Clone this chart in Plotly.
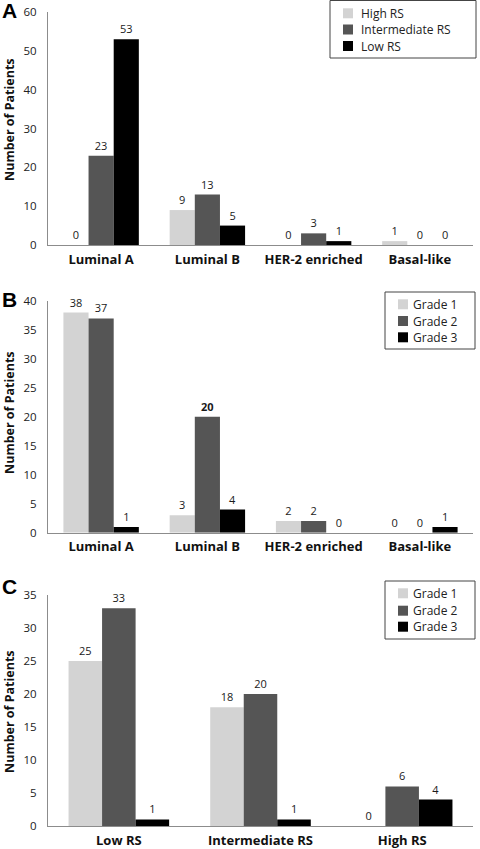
import plotly.graph_objects as go

# ---- data ----
cats_a = ["Luminal A", "Luminal B", "HER-2 enriched", "Basal-like"]
a_names = ["High RS", "Intermediate RS", "Low RS"]
a_high_rs = [0, 9, 0, 1]
a_inter_rs = [23, 13, 3, 0]
a_low_rs = [53, 5, 1, 0]

cats_b = ["Luminal A", "Luminal B", "HER-2 enriched", "Basal-like"]
grade_names = ["Grade 1", "Grade 2", "Grade 3"]
b_grade1 = [38, 3, 2, 0]
b_grade2 = [37, 20, 2, 0]
b_grade3 = [1, 4, 0, 1]

cats_c = ["Low RS", "Intermediate RS", "High RS"]
c_grade1 = [25, 18, 0]
c_grade2 = [33, 20, 6]
c_grade3 = [1, 1, 4]

LIGHT = "#d3d3d3"
DARK = "#555555"
BLACK = "#000000"
COLORS = [LIGHT, DARK, BLACK]
FONT = "Open Sans"

fig = go.Figure()

def add(cats, vals, name, color, xa, ya, bold_idx=()):
    txt = [("<b>%d</b>" % v) if i in bold_idx else str(v) for i, v in enumerate(vals)]
    fig.add_trace(go.Bar(
        x=cats, y=vals, name=name, marker=dict(color=color, line=dict(width=0)),
        text=txt, textposition="outside", cliponaxis=False,
        textfont=dict(size=11, color="#1a1a1a", family=FONT),
        xaxis=xa, yaxis=ya, showlegend=False,
    ))

for vals, name, col in zip([a_high_rs, a_inter_rs, a_low_rs], a_names, COLORS):
    add(cats_a, vals, name, col, "x", "y")
for i, (vals, name, col) in enumerate(zip([b_grade1, b_grade2, b_grade3], grade_names, COLORS)):
    add(cats_b, vals, name, col, "x2", "y2", bold_idx=(1,) if i == 1 else ())
for vals, name, col in zip([c_grade1, c_grade2, c_grade3], grade_names, COLORS):
    add(cats_c, vals, name, col, "x3", "y3")

H = 849.0
L = 48.0
PW = 425.0

def py(p):
    return 1 - p / H

def px(p):
    return (p - L) / PW

xcommon = dict(showline=True, linecolor="#8c8c8c", linewidth=1, showgrid=False,
               ticks="", tickfont=dict(size=13, family=FONT, color="#111111"),
               tickprefix="<b>", ticksuffix="</b>", automargin=False,
               ticklabelstandoff=2)
ycommon = dict(showline=True, linecolor="#8c8c8c", linewidth=1, showgrid=False,
               zeroline=False, ticks="", automargin=False, ticklabelstandoff=8,
               tickfont=dict(size=11.5, family=FONT, color="#222222"))

fig.update_layout(
    width=480, height=849,
    margin=dict(l=48, r=7, t=0, b=0),
    paper_bgcolor="white", plot_bgcolor="white",
    font=dict(family=FONT),
    barmode="group", bargap=0.29, bargroupgap=0,
    showlegend=False,
    xaxis=dict(domain=[0, 1], anchor="y", **xcommon),
    yaxis=dict(domain=[py(245), py(12)], anchor="x", range=[0, 60], dtick=10, **ycommon),
    xaxis2=dict(domain=[0, 1], anchor="y2", **xcommon),
    yaxis2=dict(domain=[py(532.7), py(301)], anchor="x2", range=[0, 40], dtick=5, **ycommon),
    xaxis3=dict(domain=[0, 1], anchor="y3", **xcommon),
    yaxis3=dict(domain=[py(826), py(595)], anchor="x3", range=[0, 35], dtick=5, **ycommon),
)

annots = []
shapes = []
for letter, yc in [("A", 11), ("B", 299), ("C", 586)]:
    annots.append(dict(text="<b>" + letter + "</b>", xref="paper", yref="paper",
                       x=px(0), y=py(yc), xanchor="left", yanchor="middle",
                       showarrow=False, font=dict(size=21, family="Liberation Sans", color="black")))
for yc in [120, 413, 712]:
    annots.append(dict(text="<b>Number of Patients</b>", xref="paper", yref="paper",
                       x=px(9), y=py(yc), xanchor="center", yanchor="middle", textangle=-90,
                       showarrow=False, font=dict(size=12.5, family=FONT, color="#111111")))

# custom legends (box, swatches, labels)
legends = [
    (a_names, (330, 476, 0.5, 58), 343, 359, [13.3, 29.5, 46]),
    (grade_names, (385, 475, 292, 349), 398, 411, [304.3, 321, 337.3]),
    (grade_names, (385, 475, 581, 639), 398, 411, [593.3, 610.7, 626.7]),
]
for names, (x0, x1, y0, y1), sx, tx, ycs in legends:
    shapes.append(dict(type="rect", xref="paper", yref="paper",
                       x0=px(x0), x1=px(x1), y0=py(y1), y1=py(y0),
                       line=dict(color="#444444", width=1), fillcolor="white", layer="above"))
    for name, col, yc in zip(names, COLORS, ycs):
        shapes.append(dict(type="rect", xref="paper", yref="paper",
                           x0=px(sx), x1=px(sx + 10), y0=py(yc + 5), y1=py(yc - 5),
                           line=dict(width=0), fillcolor=col, layer="above"))
        annots.append(dict(text=name, xref="paper", yref="paper", x=px(tx), y=py(yc),
                           xanchor="left", yanchor="middle", showarrow=False,
                           font=dict(size=12, family=FONT, color="#222222")))

fig.update_layout(annotations=annots, shapes=shapes)

fig.write_html("out.html",
               config={"displayModeBar": False},
               post_script="document.body.style.margin='0';document.body.style.padding='0';")
